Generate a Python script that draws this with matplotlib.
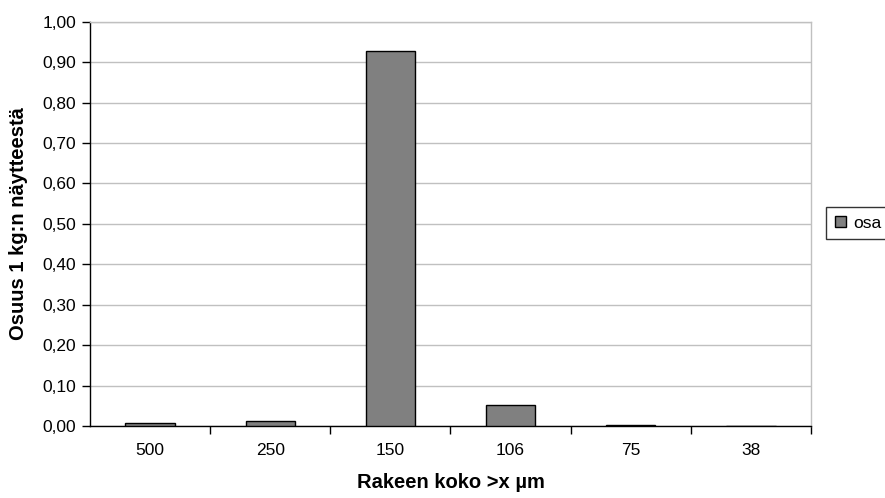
import matplotlib.pyplot as plt
import numpy as np
from matplotlib.ticker import FuncFormatter

# data
koot = ["500", "250", "150", "106", "75", "38"]
osuus = [0.008, 0.012, 0.927, 0.052, 0.003, 0.0]

plt.rcParams["font.family"] = ["Liberation Sans", "DejaVu Sans"]

fig = plt.figure(figsize=(8.85, 4.98), dpi=100)
ax = fig.add_axes([90 / 885, 1 - 426 / 498, 721 / 885, 404.3 / 498])

x = np.arange(len(koot))
ax.bar(x, osuus, width=0.41, color="#808080", edgecolor="black", linewidth=1,
       label="osa", zorder=3)

ax.set_xlim(-0.5, len(koot) - 0.5)
ax.set_ylim(0, 1.0)
ax.set_yticks(np.arange(0, 1.01, 0.1))
ax.yaxis.set_major_formatter(FuncFormatter(lambda v, p: f"{v:.2f}".replace(".", ",")))
ax.grid(axis="y", color="#c0c0c0", linewidth=1, zorder=0)

# category labels centred, tick marks on the boundaries
ax.set_xticks(x)
ax.set_xticklabels(koot)
ax.tick_params(axis="x", which="major", length=0, pad=12, labelsize=12.5)
ax.set_xticks(np.arange(0.5, len(koot), 1.0), minor=True)
ax.tick_params(axis="x", which="minor", length=6, width=1, direction="out")
ax.tick_params(axis="y", length=6, width=1, direction="out", pad=4, labelsize=12.5)

for s in ["left", "bottom"]:
    ax.spines[s].set_color("black")
    ax.spines[s].set_linewidth(1)
for s in ["top", "right"]:
    ax.spines[s].set_color("#c0c0c0")
    ax.spines[s].set_linewidth(1)

ax.set_xlabel("Rakeen koko >x µm", fontsize=14.5, fontweight="bold", labelpad=11)
ax.set_ylabel("Osuus 1 kg:n näytteestä", fontsize=14.5, fontweight="bold", labelpad=10)

leg = fig.legend(loc="upper left", bbox_to_anchor=(826 / 885, 1 - 207 / 498),
                 borderaxespad=0, fontsize=12.5, frameon=True, fancybox=False,
                 handlelength=0.65, handleheight=0.65, handletextpad=0.4,
                 borderpad=0.5)
leg.get_frame().set_edgecolor("black")
leg.get_frame().set_linewidth(1)

fig.savefig("out.png", dpi=100)
